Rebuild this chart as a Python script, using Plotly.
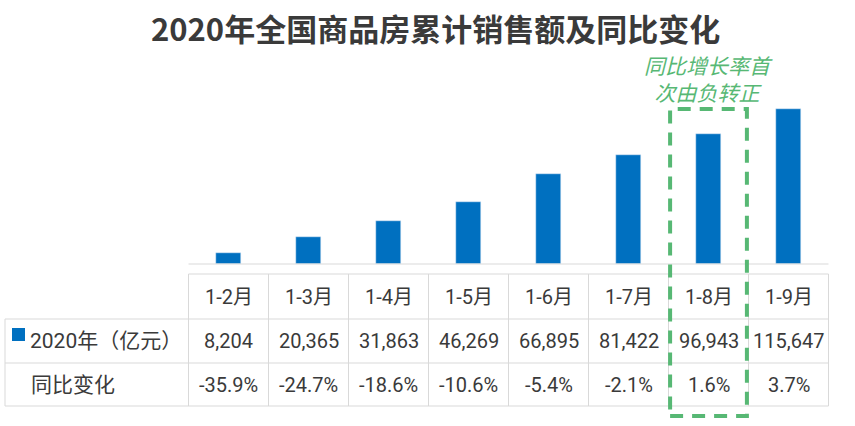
import plotly.graph_objects as go

# ---- data ----
periods = ["1-2月", "1-3月", "1-4月", "1-5月", "1-6月", "1-7月", "1-8月", "1-9月"]
sales_2020 = [8204, 20365, 31863, 46269, 66895, 81422, 96943, 115647]
yoy_change = [-35.9, -24.7, -18.6, -10.6, -5.4, -2.1, 1.6, 3.7]
row_labels = ["2020年（亿元）", "同比变化"]
title_text = "2020年全国商品房累计销售额及同比变化"
note_text = "同比增长率首<br>次由负转正"
highlight_period = "1-8月"

W, H = 855, 426
BLUE = "#0070C0"
GREEN = "#57B874"
GRID = "#D9D9D9"
TXT = "#3A3A3A"
FONT = "Roboto, 'Noto Sans CJK SC', sans-serif"
TFS = 20

def py(p):
    return 1 - p / H

def px(p):
    return p / W

col_w = 80.0
first_center = 228.5
x_lo = -first_center / col_w
x_hi = x_lo + W / col_w
baseline_px = 264
units_per_px = 744
idx = list(range(len(periods)))

fig = go.Figure()
fig.add_trace(go.Bar(x=idx, y=sales_2020, marker_color=BLUE, width=0.31,
                     showlegend=False, hoverinfo="skip"))

shapes = []
annots = []
line = dict(color=GRID, width=1)
n = len(periods)
left_edge = -0.5
right_edge = n - 0.5
right_paper = (right_edge - x_lo) / (x_hi - x_lo)

def txt(x, y, text, xref="x", size=TFS, color=TXT, family=FONT, xanchor="center", **kw):
    d = dict(x=x, y=y, xref=xref, yref="paper", text=text, showarrow=False,
             xanchor=xanchor, yanchor="middle",
             font=dict(size=size, color=color, family=family, **kw))
    annots.append(d)

# baseline of bars
shapes.append(dict(type="line", xref="x", yref="paper", x0=left_edge, x1=right_edge,
                   y0=py(baseline_px), y1=py(baseline_px), line=line))
# table horizontal lines
row_y = [274, 319, 363, 406]
shapes.append(dict(type="line", xref="x", yref="paper", x0=left_edge, x1=right_edge,
                   y0=py(row_y[0]), y1=py(row_y[0]), line=line))
for ry in row_y[1:]:
    shapes.append(dict(type="line", xref="paper", yref="paper", x0=px(5), x1=right_paper,
                       y0=py(ry), y1=py(ry), line=line))
# verticals
shapes.append(dict(type="line", xref="paper", yref="paper", x0=px(5), x1=px(5),
                   y0=py(row_y[1]), y1=py(row_y[3]), line=line))
for k in range(n + 1):
    xv = k - 0.5
    shapes.append(dict(type="line", xref="x", yref="paper", x0=xv, x1=xv,
                       y0=py(row_y[0]), y1=py(row_y[3]), line=line))

# table text
row_centers = [297, 341, 385]
for i, p in enumerate(periods):
    txt(i, py(row_centers[0]), p)
    txt(i, py(row_centers[1]), f"{sales_2020[i]:,}")
    txt(i, py(row_centers[2]), f"{yoy_change[i]:.1f}%")

# row labels
txt(px(28), py(row_centers[1]), row_labels[0], xref="paper", xanchor="left", size=21)
txt(px(29), py(row_centers[2]), row_labels[1], xref="paper", xanchor="left", size=21)
shapes.append(dict(type="rect", xref="paper", yref="paper", x0=px(12), x1=px(25),
                   y0=py(341), y1=py(328), fillcolor=BLUE, line=dict(width=0)))

# highlight box
hi = periods.index(highlight_period)
shapes.append(dict(type="rect", xref="x", yref="paper", x0=hi - 0.48, x1=hi + 0.48,
                   y0=py(416), y1=py(109), fillcolor="rgba(0,0,0,0)",
                   line=dict(color=GREEN, width=4, dash="13px,9px")))
txt(hi, py(80), note_text, size=21, color=GREEN, style="italic")

# title
txt(px(435), py(27), f"<b>{title_text}</b>", xref="paper", size=31,
    family="'Noto Sans CJK SC', sans-serif")

fig.update_layout(
    width=W, height=H, margin=dict(l=0, r=0, t=0, b=0),
    paper_bgcolor="white", plot_bgcolor="white",
    xaxis=dict(range=[x_lo, x_hi], visible=False, fixedrange=True),
    yaxis=dict(domain=[py(baseline_px), 1], range=[0, baseline_px * units_per_px],
               visible=False, fixedrange=True),
    shapes=shapes, annotations=annots, bargap=0,
)

fig.write_html("out.html", config={"displayModeBar": False},
               post_script="document.body.style.margin='0';")
